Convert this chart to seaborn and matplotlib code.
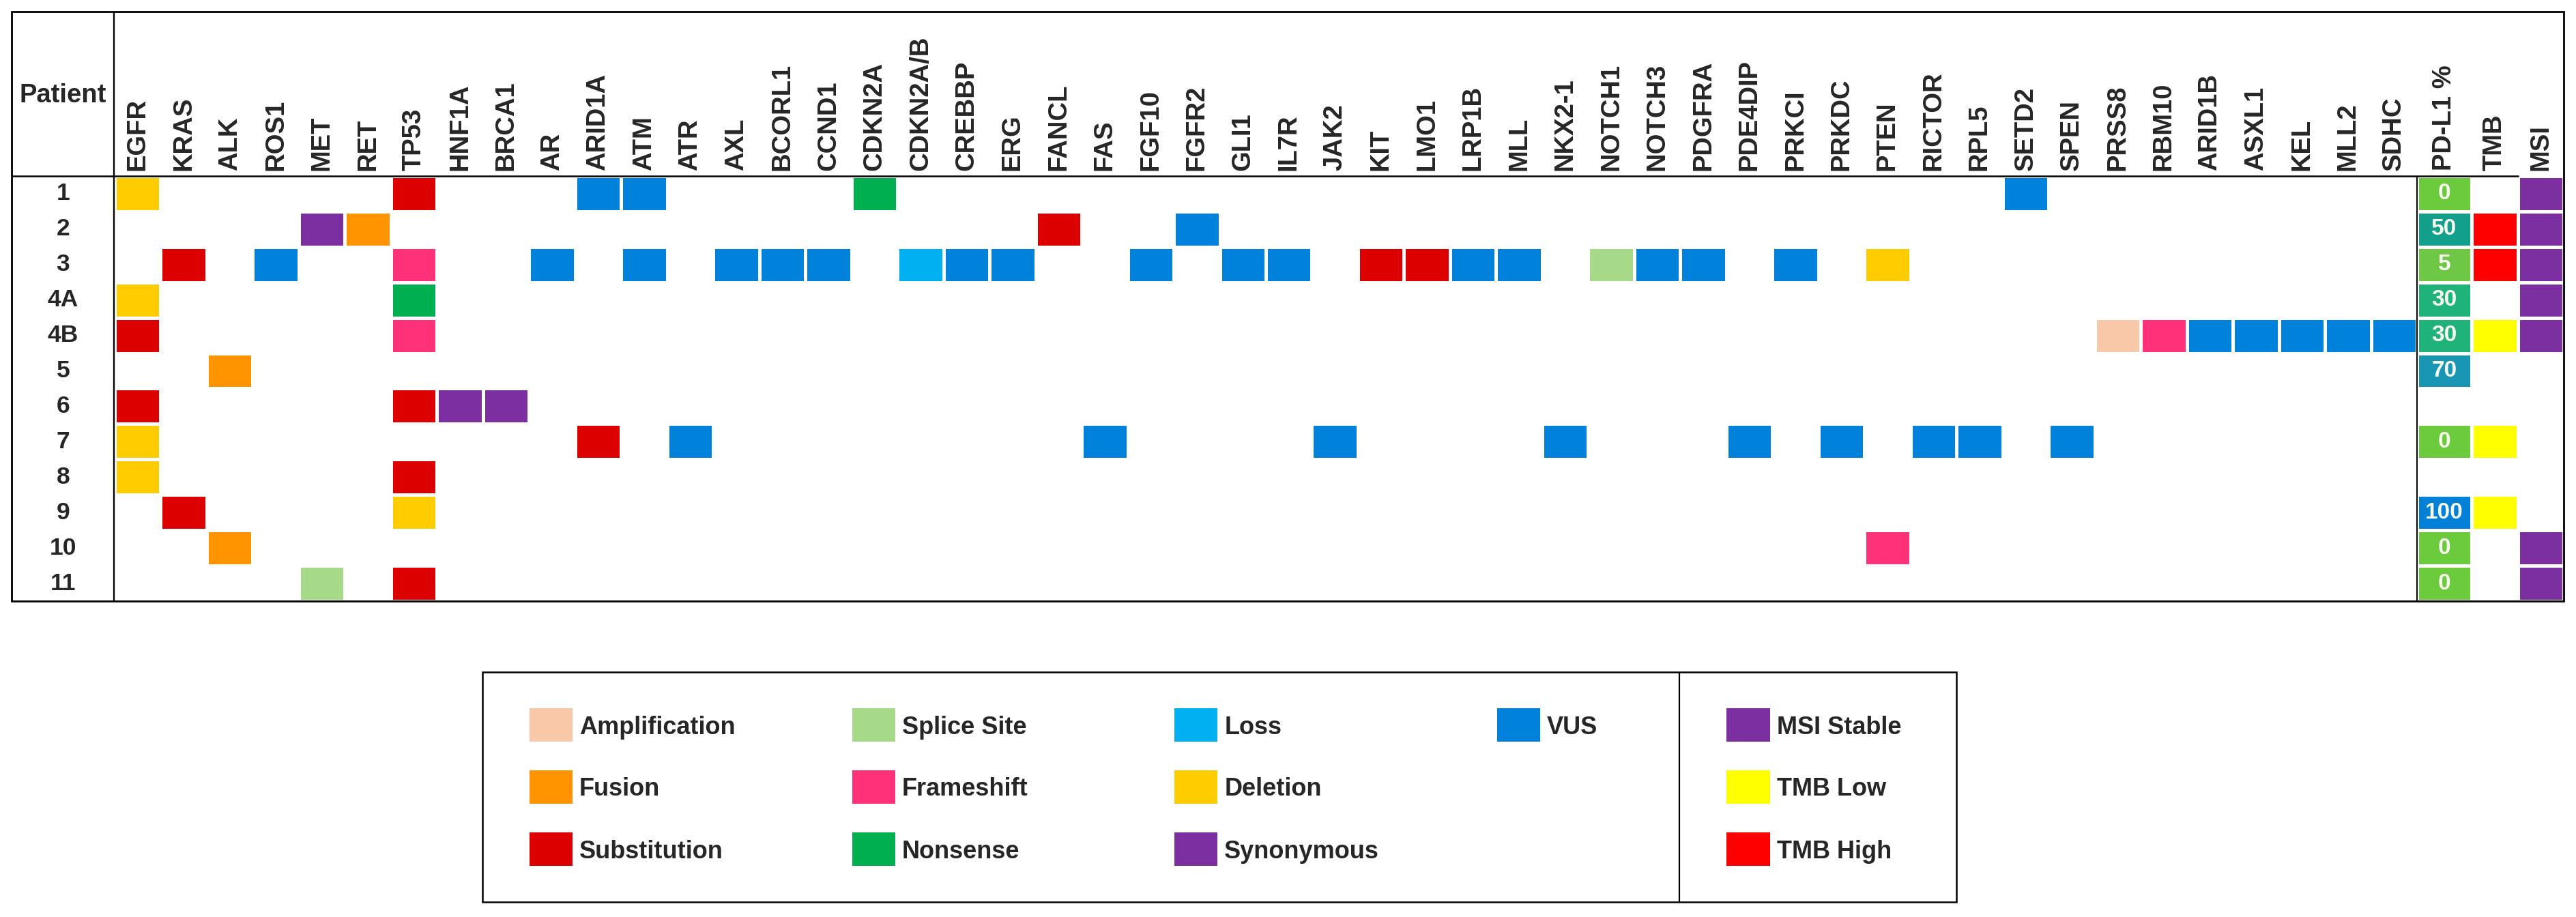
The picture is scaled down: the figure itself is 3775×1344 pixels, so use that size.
import numpy as np
import pandas as pd
import matplotlib
matplotlib.use("Agg")
import matplotlib.pyplot as plt
import seaborn as sns
from matplotlib.colors import ListedColormap, LinearSegmentedColormap
from matplotlib.patches import Rectangle

# ---------------- data ----------------
patients = ['1', '2', '3', '4A', '4B', '5', '6', '7', '8', '9', '10', '11']
genes = ['EGFR', 'KRAS', 'ALK', 'ROS1', 'MET', 'RET', 'TP53', 'HNF1A', 'BRCA1', 'AR',
         'ARID1A', 'ATM', 'ATR', 'AXL', 'BCORL1', 'CCND1', 'CDKN2A', 'CDKN2A/B', 'CREBBP', 'ERG',
         'FANCL', 'FAS', 'FGF10', 'FGFR2', 'GLI1', 'IL7R', 'JAK2', 'KIT', 'LMO1', 'LRP1B',
         'MLL', 'NKX2-1', 'NOTCH1', 'NOTCH3', 'PDGFRA', 'PDE4DIP', 'PRKCI', 'PRKDC', 'PTEN', 'RICTOR',
         'RPL5', 'SETD2', 'SPEN', 'PRSS8', 'RBM10', 'ARID1B', 'ASXL1', 'KEL', 'MLL2', 'SDHC']

mutation_types = ['Amplification', 'Fusion', 'Substitution',
                  'Splice Site', 'Frameshift', 'Nonsense',
                  'Loss', 'Deletion', 'Synonymous',
                  'VUS']
mutation_colors = ['#F9C8A8', '#FF9400', '#DC0000',
                   '#A6DA88', '#FF3279', '#00B050',
                   '#00B0F0', '#FFCC00', '#7B2FA0',
                   '#0082DC']

mutations = [
    ('1', 'EGFR', 'Deletion'), ('1', 'TP53', 'Substitution'), ('1', 'ARID1A', 'VUS'),
    ('1', 'ATM', 'VUS'), ('1', 'CDKN2A', 'Nonsense'), ('1', 'SETD2', 'VUS'),
    ('2', 'MET', 'Synonymous'), ('2', 'RET', 'Fusion'), ('2', 'FANCL', 'Substitution'),
    ('2', 'FGFR2', 'VUS'),
    ('3', 'KRAS', 'Substitution'), ('3', 'ROS1', 'VUS'), ('3', 'TP53', 'Frameshift'),
    ('3', 'AR', 'VUS'), ('3', 'ATM', 'VUS'), ('3', 'AXL', 'VUS'), ('3', 'BCORL1', 'VUS'),
    ('3', 'CCND1', 'VUS'), ('3', 'CDKN2A/B', 'Loss'), ('3', 'CREBBP', 'VUS'), ('3', 'ERG', 'VUS'),
    ('3', 'FGF10', 'VUS'), ('3', 'GLI1', 'VUS'), ('3', 'IL7R', 'VUS'), ('3', 'KIT', 'Substitution'),
    ('3', 'LMO1', 'Substitution'), ('3', 'LRP1B', 'VUS'), ('3', 'MLL', 'VUS'),
    ('3', 'NOTCH1', 'Splice Site'), ('3', 'NOTCH3', 'VUS'), ('3', 'PDGFRA', 'VUS'),
    ('3', 'PRKCI', 'VUS'), ('3', 'PTEN', 'Deletion'),
    ('4A', 'EGFR', 'Deletion'), ('4A', 'TP53', 'Nonsense'),
    ('4B', 'EGFR', 'Substitution'), ('4B', 'TP53', 'Frameshift'), ('4B', 'PRSS8', 'Amplification'),
    ('4B', 'RBM10', 'Frameshift'), ('4B', 'ARID1B', 'VUS'), ('4B', 'ASXL1', 'VUS'),
    ('4B', 'KEL', 'VUS'), ('4B', 'MLL2', 'VUS'), ('4B', 'SDHC', 'VUS'),
    ('5', 'ALK', 'Fusion'),
    ('6', 'EGFR', 'Substitution'), ('6', 'TP53', 'Substitution'), ('6', 'HNF1A', 'Synonymous'),
    ('6', 'BRCA1', 'Synonymous'),
    ('7', 'EGFR', 'Deletion'), ('7', 'ARID1A', 'Substitution'), ('7', 'ATR', 'VUS'),
    ('7', 'FAS', 'VUS'), ('7', 'JAK2', 'VUS'), ('7', 'NKX2-1', 'VUS'), ('7', 'PDE4DIP', 'VUS'),
    ('7', 'PRKDC', 'VUS'), ('7', 'RICTOR', 'VUS'), ('7', 'RPL5', 'VUS'), ('7', 'SPEN', 'VUS'),
    ('8', 'EGFR', 'Deletion'), ('8', 'TP53', 'Substitution'),
    ('9', 'KRAS', 'Substitution'), ('9', 'TP53', 'Deletion'),
    ('10', 'ALK', 'Fusion'), ('10', 'PTEN', 'Frameshift'),
    ('11', 'MET', 'Splice Site'), ('11', 'TP53', 'Substitution'),
]

pd_l1 = [0, 50, 5, 30, 30, 70, np.nan, 0, np.nan, 100, 0, 0]
tmb = [None, 'TMB High', 'TMB High', None, 'TMB Low', None, None, 'TMB Low', None, 'TMB Low', None, None]
msi = ['MSI Stable', 'MSI Stable', 'MSI Stable', 'MSI Stable', 'MSI Stable',
       None, None, None, None, None, 'MSI Stable', 'MSI Stable']

status_types = ['MSI Stable', 'TMB Low', 'TMB High']
status_colors = ['#7B2FA0', '#FFFF00', '#FF0000']

# ---------------- style ----------------
sns.set_style('white')
plt.rcParams['font.family'] = ['Liberation Sans', 'DejaVu Sans']
plt.rcParams['font.weight'] = 'bold'

W, H = 3775, 1344
DPI = 100
fig = plt.figure(figsize=(W / DPI, H / DPI), dpi=DPI)
fig.patch.set_facecolor('white')


def px_axes(left, top, right, bottom):
    return fig.add_axes([left / W, 1 - bottom / H, (right - left) / W, (bottom - top) / H])


GRID_TOP, GRID_BOTTOM = 258, 881
GAP = 2.2  # white gap between cells (pt)

# ---- mutation matrix ----
mut_df = pd.DataFrame(np.nan, index=patients, columns=genes)
for p, g, t in mutations:
    mut_df.loc[p, g] = mutation_types.index(t)

ax_g = px_axes(168, GRID_TOP, 3542, GRID_BOTTOM)
sns.heatmap(mut_df, ax=ax_g, cmap=ListedColormap(mutation_colors),
            vmin=-0.5, vmax=len(mutation_types) - 0.5, cbar=False,
            linewidths=GAP, linecolor='white', xticklabels=True, yticklabels=True)

# ---- PD-L1 ----
pd_df = pd.DataFrame({'PD-L1 %': pd_l1}, index=patients)
pd_cmap = LinearSegmentedColormap.from_list(
    'pdl1', [(0.0, '#6CCB3C'), (0.05, '#6EC847'), (0.30, '#1FB379'),
             (0.50, '#12A08D'), (0.70, '#1896B4'), (1.0, '#0080D6')])
ax_p = px_axes(3542, GRID_TOP, 3622, GRID_BOTTOM)
sns.heatmap(pd_df, ax=ax_p, cmap=pd_cmap, vmin=0, vmax=100, cbar=False,
            annot=True, fmt='.0f',
            annot_kws={'color': '#F6FAEE', 'fontsize': 24, 'fontweight': 'bold'},
            linewidths=GAP, linecolor='white', xticklabels=True, yticklabels=False)

# ---- TMB / MSI ----
st_df = pd.DataFrame({'TMB': [status_types.index(v) if v else np.nan for v in tmb],
                      'MSI': [status_types.index(v) if v else np.nan for v in msi]},
                     index=patients)
ax_s = px_axes(3622, GRID_TOP, 3757, GRID_BOTTOM)
sns.heatmap(st_df, ax=ax_s, cmap=ListedColormap(status_colors),
            vmin=-0.5, vmax=len(status_types) - 0.5, cbar=False,
            linewidths=GAP, linecolor='white', xticklabels=True, yticklabels=False)

# ---- tick label styling ----
for ax in (ax_g, ax_p, ax_s):
    ax.set_xlabel('')
    ax.set_ylabel('')
    for s in ax.spines.values():
        s.set_visible(False)
    ax.xaxis.tick_top()
    ax.tick_params(axis='x', top=True, bottom=False, labeltop=True, labelbottom=False,
                   length=0, pad=5.5)
    for lab in ax.get_xticklabels():
        lab.set_rotation(90)
        lab.set_ha('center')
        lab.set_va('bottom')
        lab.set_fontsize(27.5)
        lab.set_fontweight('bold')

ax_g.tick_params(axis='y', left=True, length=0, pad=54.5)
for lab in ax_g.get_yticklabels():
    lab.set_rotation(0)
    lab.set_ha('center')
    lab.set_fontsize(25.5)
    lab.set_fontweight('bold')

# ---------------- overlay: table lines and legend ----------------
ov = fig.add_axes([0, 0, 1, 1])
ov.set_xlim(0, W)
ov.set_ylim(H, 0)
ov.axis('off')
ov.patch.set_alpha(0)

ov.add_patch(Rectangle((17, 17), 3757 - 17, 881 - 17, fill=False, ec='black', lw=2.0))
ov.plot([167, 167], [17, 881], color='black', lw=1.7, solid_capstyle='butt')
ov.plot([17, 3691], [258, 258], color='black', lw=1.8, solid_capstyle='butt')
ov.plot([3542, 3542], [258, 881], color='black', lw=1.4, solid_capstyle='butt')
ov.text(92, 150, 'Patient', ha='center', va='baseline', fontsize=27.5, fontweight='bold')

# legend box
ov.add_patch(Rectangle((707, 985), 2867 - 707, 1322 - 985, fill=False, ec='black', lw=1.8))
ov.plot([2461, 2461], [985, 1322], color='black', lw=1.6, solid_capstyle='butt')

SW, SH = 63, 49
LEG_FS = 26
for i, (lab, col) in enumerate(zip(mutation_types, mutation_colors)):
    c, r = divmod(i, 3)
    x0 = 776 + 472.7 * c
    y0 = 1038 + 91 * r
    ov.add_patch(Rectangle((x0, y0), SW, SH, fc=col, ec='none'))
    ov.text(x0 + SW + 10, y0 + SH / 2 + 13, lab, ha='left', va='baseline',
            fontsize=LEG_FS, fontweight='bold')

for r, (lab, col) in enumerate(zip(status_types, status_colors)):
    x0 = 2530
    y0 = 1038 + 91 * r
    ov.add_patch(Rectangle((x0, y0), SW + 1, SH, fc=col, ec='none'))
    ov.text(x0 + SW + 11, y0 + SH / 2 + 13, lab, ha='left', va='baseline',
            fontsize=LEG_FS, fontweight='bold')

fig.savefig('out.png', dpi=DPI, facecolor='white')
